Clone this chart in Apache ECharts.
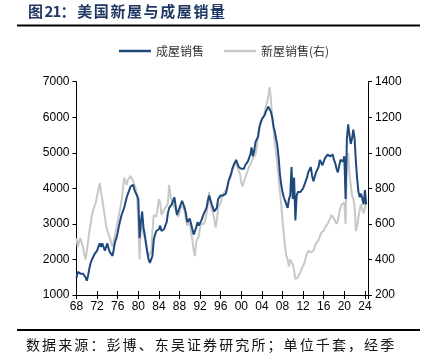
<!DOCTYPE html>
<html>
<head>
<meta charset="utf-8">
<script src="https://cdn.jsdelivr.net/npm/echarts@6/dist/echarts.min.js"></script>
<style>
html,body{margin:0;padding:0;background:#fff;}
#chart{width:428px;height:363px;}
</style>
</head>
<body>
<div id="chart"></div>
<script>
// ---- data (quarterly, thousands of units, SAAR) ----
const startYear = 1968;
const periodsPerYear = 4;
const seriesNames = ['成屋销售', '新屋销售(右)'];
const titleText = '图21：美国新屋与成屋销量';
const footerText = '数据来源：彭博、东吴证券研究所；单位千套，经季';
const tickYears = [1968,1972,1976,1980,1984,1988,1992,1996,2000,2004,2008,2012,2016,2020,2024];
const leftTicks = [1000,2000,3000,4000,5000,6000,7000];
const rightTicks = [200,400,600,800,1000,1200,1400];

const existingSales = [
1480,1650,1700,1600, 1580,1600,1550,1500, 1400,1550,1750,1900, 2000,2050,2150,2200,
2250,2350,2450,2350, 2450,2350,2250,2300, 2450,2300,2200,2150, 2100,2300,2500,2600,
2750,2950,3100,3250, 3350,3450,3600,3750, 3850,3950,4050,4100, 4100,3950,3950,3800,
3700,2600,3050,3350, 2900,2700,2450,2200, 2000,1900,1900,2100, 2550,2700,2800,2800,
2850,2950,2800,2750, 2850,2950,3050,3300, 3450,3450,3550,3650, 3750,3500,3250,3350,
3450,3550,3650,3700, 3450,3300,3050,3100, 3150,3000,2850,2700, 2650,2900,3050,2950,
2950,3100,3150,3300, 3350,3450,3650,3800, 3750,3550,3450,3350, 3300,3450,3700,3750,
3800,3850,3800,3850, 3850,4000,4200,4300, 4400,4550,4650,4700, 4800,4750,4600,4550,
4550,4600,4550,4650, 4700,4750,4800,4950, 5150,4900,5050,5300, 5350,5450,5700,5850,
5950,6000,6050,6150, 6200,6300,6300,6150, 6000,5750,5600,5550, 5200,4850,4400,4100,
3900,3750,3650,3550, 3450,3700,3800,4600, 3700,4300,3100,3800, 3900,3850,3900,3950,
4000,4100,4150,4300, 4450,4500,4600,4350, 4200,4250,4450,4500, 4600,4800,4750,4650,
4700,4850,4800,4950, 5000,4900,4850,4950, 4800,4700,4550,4450, 4500,4800,4850,4750,
4900,3700,5400,5800, 5500,5250,5400,5650, 5400,4750,4250,3900, 3750,3850,3800,3550,
3950,3550
];

const newSales = [
520,470,500,520, 510,470,430,400, 450,500,560,600, 650,680,700,720,
760,790,830,780, 740,690,640,590, 560,540,520,490, 470,510,540,580,
610,650,690,730, 790,860,840,820, 850,860,870,860, 840,830,800,760,
600,400,600,580, 540,520,480,450, 420,410,440,560, 650,660,640,650,
740,720,650,640, 680,680,700,720, 820,760,730,710, 700,680,660,640,
660,700,710,690, 670,620,590,600, 610,550,510,450, 420,500,510,530,
580,600,590,600, 620,660,700,780, 720,680,660,630, 580,620,690,700,
720,750,770,780, 790,800,830,850, 870,900,920,950, 960,920,900,880,
830,810,840,860, 870,900,920,930, 950,970,980,990, 1030,1100,1150,1160,
1180,1200,1220,1260, 1280,1320,1370,1300, 1200,1130,1050,1000, 930,860,780,710,
620,540,470,420, 400,360,400,390, 370,340,290,300, 300,310,330,350,
360,380,410,430, 450,450,440,430, 450,470,490,480, 510,530,550,560,
560,580,590,600, 610,630,650,640, 630,620,600,620, 660,690,710,700,
720,600,940,1000, 880,820,760,740, 700,560,590,640, 680,710,680,660,
690,720
];

// ---- build ----
const toPairs = arr => arr.map((v, i) => [startYear + i / periodsPerYear, v]);
const richChars = (s, style, digitStyle) =>
  Array.from(s).map(ch => (/[0-9]/.test(ch) && digitStyle ? `{${digitStyle}|${ch}}` : `{${style}|${ch}}`)).join('');

const BLUE = '#1f497d';
const GRAY = '#c8c8c8';
const AX = '#000';
const numFont = "'Liberation Sans', Arial, sans-serif";
const cjkFont = "'Noto Sans CJK SC', sans-serif";

const chart = echarts.init(document.getElementById('chart'), null, {renderer: 'canvas'});

const xBase = {
  type: 'value', min: tickYears[0], max: 2024.6, interval: 4, gridIndex: 0, position: 'bottom',
  splitLine: {show: false}
};

chart.setOption({
  animation: false,
  backgroundColor: '#fff',
  title: [
    {
      text: richChars(titleText, 'c', 'd'),
      left: 28, top: 4, padding: 0,
      textStyle: {
        fontWeight: 'bold',
        rich: {
          c: {width: 16.6, fontSize: 15, fontWeight: 'bold', color: '#1f3864', fontFamily: cjkFont},
          d: {width: 8, fontSize: 15, fontWeight: 'bold', color: '#1f3864', fontFamily: cjkFont}
        }
      }
    },
    {
      text: richChars(footerText, 'f'),
      left: 26, top: 338, padding: 0,
      textStyle: {
        fontWeight: 'normal',
        rich: {
          f: {width: 16.1, fontSize: 14, fontWeight: 'normal', color: '#111', fontFamily: cjkFont}
        }
      }
    }
  ],
  graphic: [
    {type: 'line', shape: {x1: 17, y1: 25.5, x2: 420, y2: 25.5}, style: {stroke: '#000', lineWidth: 2}},
    {type: 'line', shape: {x1: 17, y1: 330, x2: 420, y2: 330}, style: {stroke: '#000', lineWidth: 2}}
  ],
  legend: {
    left: 119, top: 45, padding: 0,
    icon: 'rect', itemWidth: 32, itemHeight: 2.5, itemGap: 20,
    data: seriesNames,
    textStyle: {fontSize: 12, color: '#333', fontFamily: cjkFont}
  },
  grid: {left: 76.5, top: 81.7, right: 60, bottom: 68, containLabel: false},
  xAxis: [
    Object.assign({}, xBase, {
      axisLine: {show: true, onZero: false, lineStyle: {color: AX, width: 1}},
      axisTick: {show: true, length: 4, lineStyle: {color: AX}},
      axisLabel: {
        show: true, margin: 6, fontSize: 12, color: AX, fontFamily: numFont,
        formatter: v => tickYears.includes(v) ? String(v).slice(2) : ''
      }
    }),
    Object.assign({}, xBase, {
      axisLine: {show: false},
      axisTick: {show: true, inside: true, length: 4, lineStyle: {color: AX}},
      axisLabel: {show: false}
    })
  ],
  yAxis: [
    {
      type: 'value', position: 'left', min: leftTicks[0], max: leftTicks[leftTicks.length - 1], interval: 1000,
      axisLine: {show: true, lineStyle: {color: AX}},
      axisTick: {show: true, length: 4, lineStyle: {color: AX}},
      axisLabel: {margin: 7, fontSize: 12, color: AX, fontFamily: numFont, formatter: v => String(v)},
      splitLine: {show: false}
    },
    {
      type: 'value', position: 'right', min: rightTicks[0], max: rightTicks[rightTicks.length - 1], interval: 200,
      axisLine: {show: true, lineStyle: {color: AX}},
      axisTick: {show: true, length: 4, lineStyle: {color: AX}},
      axisLabel: {margin: 7, fontSize: 12, color: AX, fontFamily: numFont, formatter: v => String(v)},
      splitLine: {show: false}
    }
  ],
  series: [
    {
      name: seriesNames[1], type: 'line', xAxisIndex: 0, yAxisIndex: 1,
      data: toPairs(newSales), showSymbol: false, symbol: 'none',
      lineStyle: {color: GRAY, width: 2}, itemStyle: {color: GRAY}, z: 2
    },
    {
      name: seriesNames[0], type: 'line', xAxisIndex: 0, yAxisIndex: 0,
      data: toPairs(existingSales), showSymbol: false, symbol: 'none',
      lineStyle: {color: BLUE, width: 2}, itemStyle: {color: BLUE}, z: 3
    }
  ]
});
</script>
</body>
</html>
